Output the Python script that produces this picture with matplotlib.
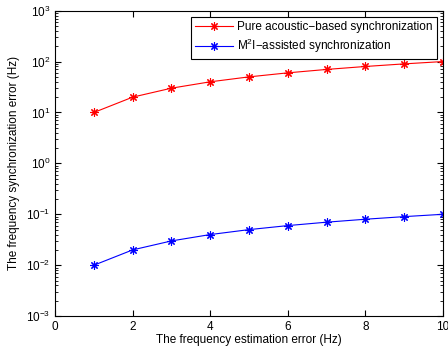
import numpy as np
import matplotlib.pyplot as plt

plt.rcParams['font.family'] = ['Liberation Sans', 'DejaVu Sans']
plt.rcParams['mathtext.fontset'] = 'custom'
plt.rcParams['mathtext.rm'] = 'Liberation Sans'

x = [1, 2, 3, 4, 5, 6, 7, 8, 9, 10]
pure = [10, 20, 30, 40, 50, 60, 70, 80, 90, 100]
m2i = [0.01, 0.02, 0.03, 0.04, 0.05, 0.06, 0.07, 0.08, 0.09, 0.1]

star = (8, 2, 0)  # matlab-like asterisk

fig = plt.figure(figsize=(4.48, 3.54), dpi=100)
ax = fig.add_axes([0.123, 0.107, 0.866, 0.863])
ax.semilogy(x, pure, '-', color='red', marker=star, lw=0.8, ms=6, mew=0.8,
            label='Pure acoustic\u2212based synchronization')
ax.semilogy(x, m2i, '-', color='blue', marker=star, lw=0.8, ms=6, mew=0.8,
            label='M$^2$I\u2212assisted synchronization')
ax.set_xlim(0, 10)
ax.set_ylim(1e-3, 1e3)
ax.set_xticks([0, 2, 4, 6, 8, 10])
ax.set_yticks([1e-3, 1e-2, 1e-1, 1e0, 1e1, 1e2, 1e3])
ax.tick_params(which='both', direction='in', top=True, right=True, labelsize=8.5)
ax.tick_params(which='major', length=4)
ax.tick_params(which='minor', length=2)
ax.set_xlabel('The frequency estimation error (Hz)', fontsize=8.5, labelpad=1)
ax.set_ylabel('The frequency synchronization error (Hz)', fontsize=8.5)
leg = ax.legend(loc='upper right', fontsize=8.5, fancybox=False, framealpha=1,
                edgecolor='black', borderaxespad=0.55, handlelength=3.2,
                handletextpad=0.35, borderpad=0.35, labelspacing=0.3)
leg.get_frame().set_linewidth(0.8)
for s in ax.spines.values():
    s.set_linewidth(0.8)
fig.savefig('out.png', dpi=100)
